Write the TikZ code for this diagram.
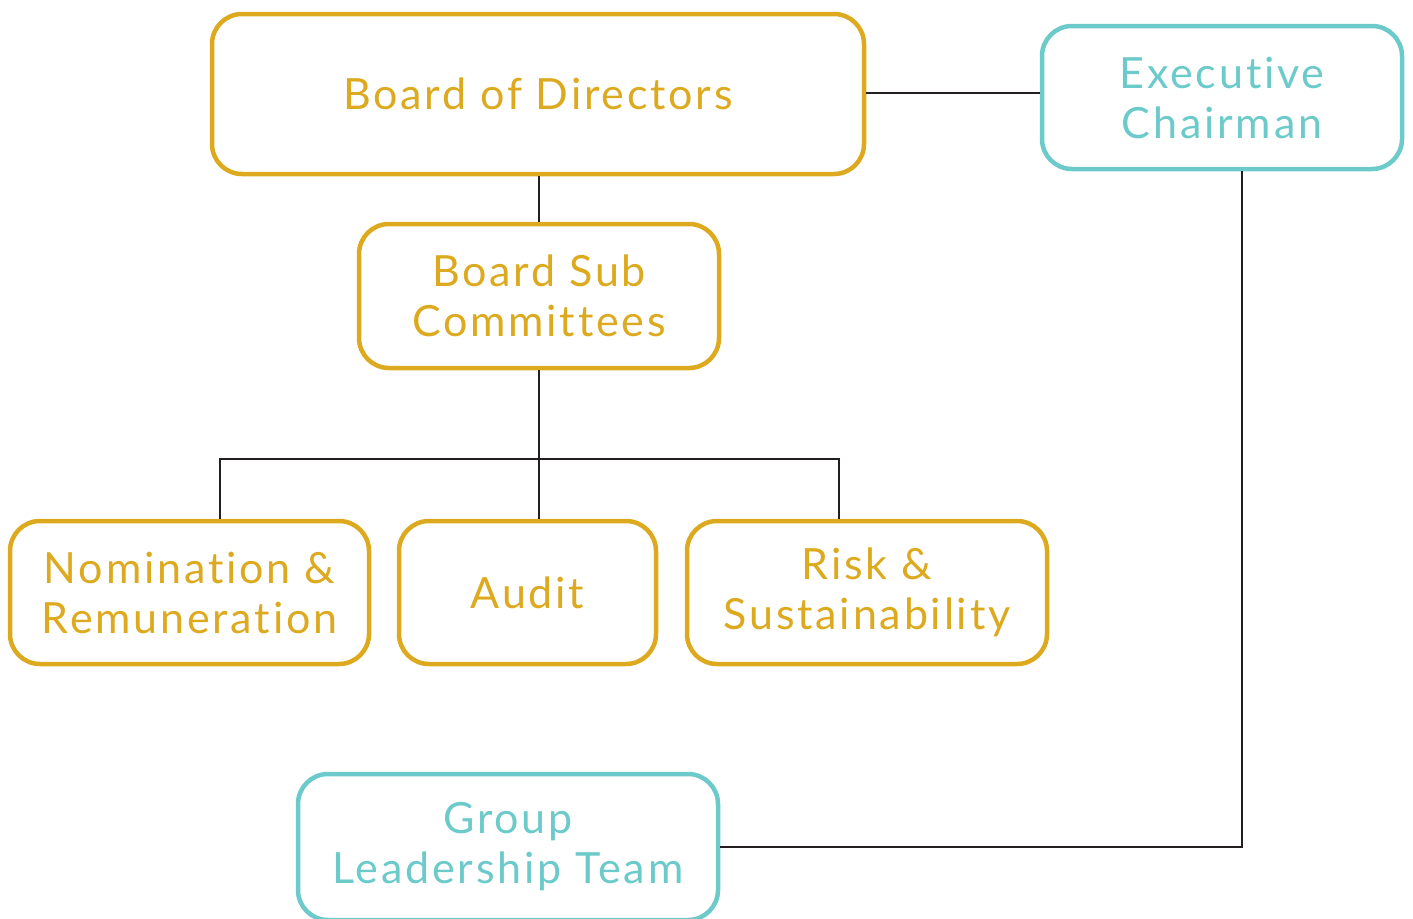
\documentclass[tikz,border=0pt]{standalone}
\usepackage{fontspec}
\setmainfont{Lato}[Ligatures={NoCommon,NoRare,NoDiscretionary}, Contextuals=NoAlternate, LetterSpace=6.5]
\definecolor{gold}{HTML}{DDAA1F}
\definecolor{teal}{HTML}{6CCACA}
\definecolor{linec}{HTML}{231F20}
\begin{document}
\begin{tikzpicture}[x=1pt,y=-1pt,
  box/.style={draw, line width=4.5pt, rounded corners=30pt, align=center, inner sep=0pt,
    font=\fontsize{43}{50}\selectfont},
  goldbox/.style={box, draw=gold, text=gold},
  tealbox/.style={box, draw=teal, text=teal},
  conn/.style={draw=linec, line width=2.2pt}]
\useasboundingbox (0,0) rectangle (1413,918);
\node[goldbox, minimum width=652pt, minimum height=160pt] (bod) at (538,94) {Board of Directors};
\node[tealbox, minimum width=360pt, minimum height=143pt] (ec) at (1222,97.5) {Executive\\Chairman};
\node[goldbox, minimum width=360pt, minimum height=144pt] (bsc) at (539,296) {Board Sub\\Committees};
\node[goldbox, minimum width=359pt, minimum height=143pt] (nom) at (189.5,592.5) {Nomination \&\\Remuneration};
\node[goldbox, minimum width=257pt, minimum height=143pt] (aud) at (527.5,592.5) {Audit};
\node[goldbox, minimum width=360pt, minimum height=143pt] (risk) at (867,592.5) {Risk \&\\Sustainability};
\node[tealbox, minimum width=420pt, minimum height=146pt] (glt) at (508,847) {Group\\Leadership Team};
\coordinate (jl) at (220,459);
\coordinate (jr) at (839,459);
\coordinate (ecx) at (1242,0);
\draw[conn] (bod.east |- 0,93) -- (ec.west |- 0,93);
\draw[conn] (bod.south -| 539,0) -- (bsc.north);
\draw[conn] (bsc.south) -- (bsc.south |- aud.north);
\draw[conn] (jl |- nom.north) -- (jl) -- (jr) -- (jr |- risk.north);
\draw[conn] (ecx |- ec.south) -- (ecx |- glt.east) -- (glt.east);
\end{tikzpicture}
\end{document}
